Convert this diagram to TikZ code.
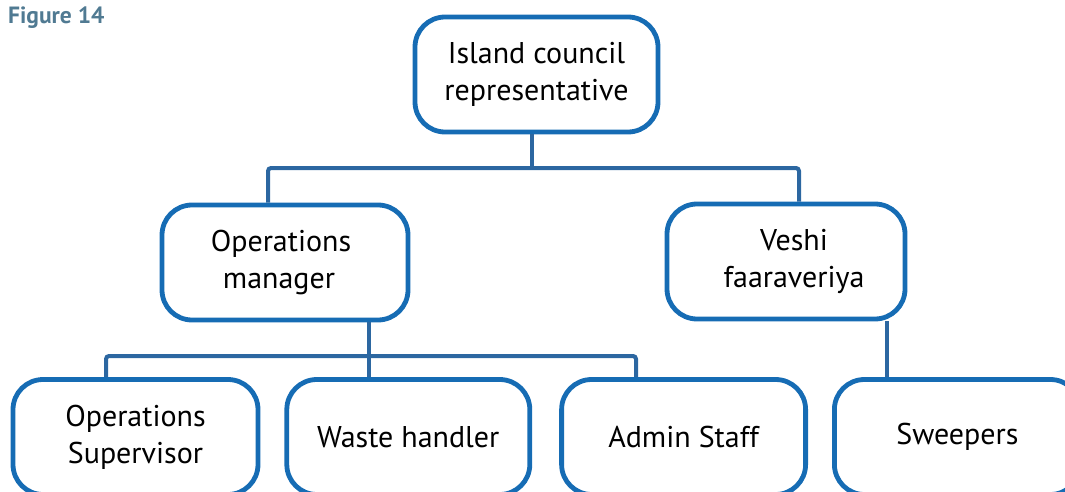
\documentclass[tikz,border=0pt]{standalone}
\usepackage{fontspec}
\setmainfont{PT Sans}
\usetikzlibrary{positioning}
\definecolor{boxblue}{RGB}{22,108,180}
\definecolor{linkblue}{RGB}{44,103,161}
\definecolor{figgrey}{RGB}{80,122,146}
\tikzset{
    %Define style for the boxes
    unit/.style={
           rectangle,
           rounded corners=30pt,
           draw=boxblue,
           line width=4.8pt,
           fill=white,
           align=center,
           font=\fontsize{30}{37}\selectfont,
           minimum height=115pt},
    % Define connector style
    link/.style={
           draw=linkblue,
           line width=4pt,
           rounded corners=3pt}
}
\begin{document}
\begin{tikzpicture}[x=1pt,y=1pt]
  \useasboundingbox (0,0) rectangle (1065,491);
  \node[anchor=base west,inner sep=0pt,text=figgrey,font=\bfseries\fontsize{23.5}{27}\selectfont] (fig) at (8,467) {Figure 14};
  \node[unit,minimum width=243pt] (council) at (536.5,416.5) {Island council\\representative};
  \node[unit,minimum width=246pt] (opsman) at (285,228.5) {Operations\hspace*{8pt}\\manager\hspace*{12pt}};
  \node[unit,minimum width=238pt] (veshi) at (786,229.5) {\hspace*{16pt}Veshi\\\hspace*{16pt}faaraveriya};
  \node[unit,minimum width=245pt] (opssup) at (135.5,54) {Operations\\Supervisor};
  \node[unit,minimum width=243pt,right=24pt of opssup] (waste) {Waste handler};
  \node[unit,minimum width=244pt,right=27pt of waste] (admin) {Admin Staff};
  \node[unit,minimum width=246pt,right=24pt of admin] (sweep) {Sweepers};
  % first level
  \coordinate (bus1) at (532,323);
  \coordinate (drop1) at (268,323);
  \coordinate (drop2) at (799,323);
  \draw[link] (council.south -| bus1) -- (bus1);
  \draw[link] (opsman.north -| drop1) -- (drop1) -- (drop2) -- (veshi.north -| drop2);
  % second level
  \coordinate (bus2) at (369,135);
  \coordinate (drop3) at (106,135);
  \coordinate (drop4) at (636,135);
  \coordinate (drop5) at (887,135);
  \draw[link] (opsman.south -| bus2) -- (waste.north -| bus2);
  \draw[link] (opssup.north -| drop3) -- (drop3) -- (drop4) -- (admin.north -| drop4);
  \draw[link] (veshi.south -| drop5) -- (sweep.north -| drop5);
\end{tikzpicture}
\end{document}
